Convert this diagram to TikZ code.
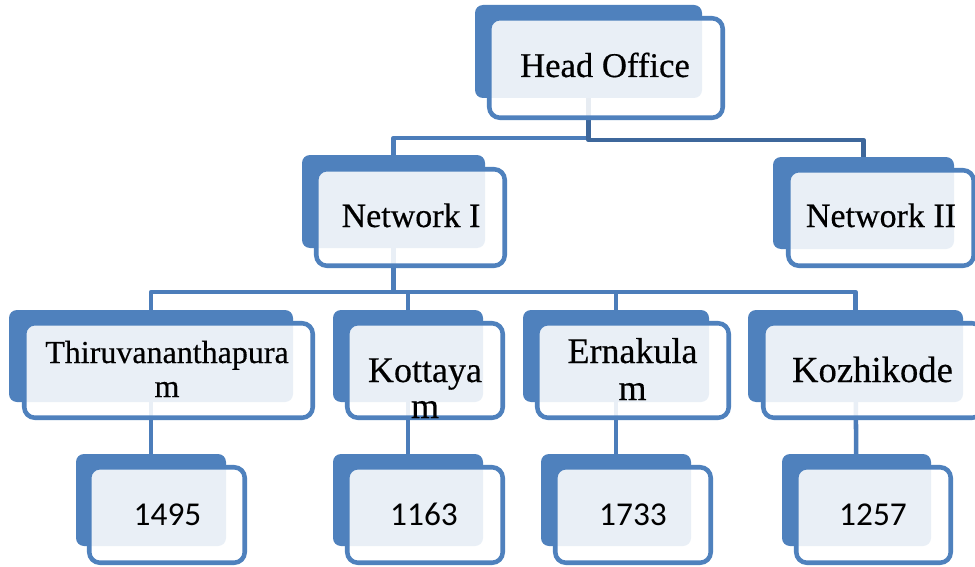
\documentclass[tikz,border=0pt]{standalone}
\usepackage{fontspec}
\setmainfont{Liberation Serif}
\newfontfamily\labelfont{Liberation Serif}[FakeBold=0.4]
\newfontfamily\numfont{Carlito}
\definecolor{boxblue}{RGB}{79,129,189}
\definecolor{linkblue}{RGB}{76,125,186}
\definecolor{linkdark}{RGB}{61,103,155}
\pgfdeclarelayer{bg}
\pgfsetlayers{bg,main}
% one chart unit: solid back plate + translucent framed front plate
% #1 name, #2-#5 back plate x1 y1 x2 y2, #6-#9 front plate outer x1 y1 x2 y2
\newcommand\orgunit[9]{%
  \node[backbox, minimum width={(#4-#2)*0.75pt}, minimum height={(#5-#3)*0.75pt}]
    (#1B) at ({(#2+#4)/2},{(#3+#5)/2}) {};
  \node[frontbox, minimum width={(#8-#6-4.5)*0.75pt}, minimum height={(#9-#7-4.5)*0.75pt}]
    (#1F) at ({(#6+#8)/2},{(#7+#9)/2}) {};
}
\begin{document}
\begin{tikzpicture}[x=0.75pt,y=-0.75pt,
  backbox/.style={fill=boxblue, rounded corners=6pt, inner sep=0pt, outer sep=0pt},
  frontbox/.style={draw=boxblue, line width=3.4pt, fill=white, fill opacity=0.88,
    rounded corners=8pt, inner sep=0pt, outer sep=0pt},
  link/.style={draw=linkblue, line width=3.4pt, line join=round},
  linkdk/.style={link, draw=linkdark},
  lbl/.style={anchor=base, inner sep=0pt, outer sep=0pt, text=black},
]
\useasboundingbox (0,0) rectangle (975,567);
\clip (0,0) rectangle (975,567);

% boxes
\orgunit{ho}{475}{5}{702}{98}{487}{16}{725}{120}
\orgunit{na}{302}{155}{485}{248}{314}{167}{507}{268}
\orgunit{nb}{773}{157}{954}{249}{786}{168}{976}{268}
\orgunit{tv}{9}{310}{293}{402}{22}{321}{315}{420}
\orgunit{kt}{333}{310}{483}{402}{345}{321}{505}{420}
\orgunit{ek}{523}{310}{709}{402}{535}{321}{731}{420}
\orgunit{kz}{748}{310}{963}{402}{761}{321}{985}{420}
\orgunit{tvn}{76}{454}{226}{546}{87}{465}{247}{565}
\orgunit{ktn}{333}{454}{483}{546}{345}{465}{505}{565}
\orgunit{ekn}{541}{454}{691}{546}{553}{465}{713}{565}
\orgunit{kzn}{782}{454}{931}{546}{794}{465}{953}{565}

% connectors, behind the boxes
\begin{pgfonlayer}{bg}
  \fill[white] (0,0) rectangle (975,567);
  \coordinate (busL) at (588,138);
  \coordinate (busR) at (588,140);
  \coordinate (busM) at (393,292);
  \draw[link] (hoB.center) -- (hoB.center |- busL) -| (naB.center);
  \draw[linkdk] (hoB.center) -- (hoB.center |- busR) -| (nbB.center);
  \foreach \c in {tvB,ktB,ekB,kzB}
    \draw[link] (naB.center) -- (naB.center |- busM) -| (\c.center);
  \foreach \a/\b in {tvB/tvnB,ktB/ktnB,ekB/eknB,kzB/kznB}
    \draw[link] (\a.center) -- (\b.center);
\end{pgfonlayer}

% labels
\node[lbl, font=\labelfont\fontsize{26}{31}\selectfont] (hoT) at (605,77) {Head Office};
\node[lbl, font=\labelfont\fontsize{25.5}{30}\selectfont] (naT) at (411,227) {Network I};
\node[lbl, font=\labelfont\fontsize{25.5}{30}\selectfont] (nbT) at (881,227) {Network II};
\node[lbl, font=\labelfont\fontsize{24}{25.5}\selectfont] (tvT) at (167,363)
  {\begin{tabular}[t]{@{}c@{}}Thiruvananthapura\\m\end{tabular}};
\node[lbl, font=\labelfont\fontsize{27}{27}\selectfont] (ktT) at (425,382)
  {\begin{tabular}[t]{@{}c@{}}Kottaya\\m\end{tabular}};
\node[lbl, font=\labelfont\fontsize{27}{27.75}\selectfont] (ekT) at (632.5,363)
  {\begin{tabular}[t]{@{}c@{}}Ernakula\\m\end{tabular}};
\node[lbl, font=\labelfont\fontsize{27.5}{32}\selectfont] (kzT) at (872.5,382) {Kozhikode};
\node[lbl, font=\numfont\fontsize{25}{30}\selectfont] (tvnT) at (167.5,525) {1495};
\node[lbl, font=\numfont\fontsize{25}{30}\selectfont] (ktnT) at (424,525) {1163};
\node[lbl, font=\numfont\fontsize{25}{30}\selectfont] (eknT) at (633,525) {1733};
\node[lbl, font=\numfont\fontsize{25}{30}\selectfont] (kznT) at (873,525) {1257};
\end{tikzpicture}
\end{document}
